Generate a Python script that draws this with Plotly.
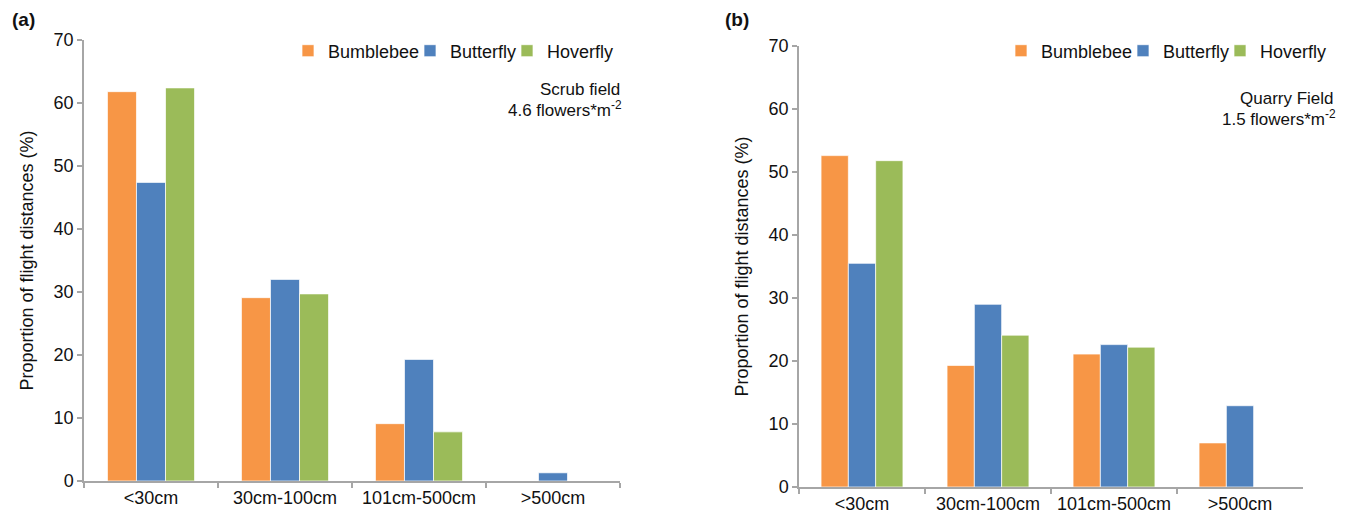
import plotly.graph_objects as go

categories = ["<30cm", "30cm-100cm", "101cm-500cm", ">500cm"]
series_names = ["Bumblebee", "Butterfly", "Hoverfly"]
colors = ["#F79646", "#4F81BD", "#9BBB59"]

scrub_bumblebee = [61.8, 29.1, 9.1, 0.0]
scrub_butterfly = [47.4, 32.0, 19.3, 1.3]
scrub_hoverfly = [62.4, 29.7, 7.8, 0.0]

quarry_bumblebee = [52.6, 19.3, 21.1, 7.0]
quarry_butterfly = [35.5, 29.0, 22.6, 12.9]
quarry_hoverfly = [51.8, 24.1, 22.2, 0.0]

y_ticks = [0, 10, 20, 30, 40, 50, 60, 70]

# page is drawn with an 8px body margin
OFF = 8
W, H = 1362 - OFF, 517 - OFF
FONT = "Liberation Sans, Arial, sans-serif"
TXT = "#111111"


def px_x(p):
    return (p - OFF) / W


def px_y(p):
    return 1 - (p - OFF) / H


fig = go.Figure()

scrub = [scrub_bumblebee, scrub_butterfly, scrub_hoverfly]
quarry = [quarry_bumblebee, quarry_butterfly, quarry_hoverfly]

# legend text start positions (page px)
left_leg_x = [328, 450, 547]
right_leg_x = [1041, 1163, 1260]
LEG_Y = 51

legends = {}
k = 1
for panel, data, xs, xa, ya in [("a", scrub, left_leg_x, "x", "y"), ("b", quarry, right_leg_x, "x2", "y2")]:
    for name, vals, c, lx in zip(series_names, data, colors, xs):
        lname = "legend" if k == 1 else f"legend{k}"
        fig.add_trace(go.Bar(x=categories, y=vals, name=name, marker_color=c,
                             marker_line=dict(color="rgba(255,255,255,0.7)", width=1),
                             xaxis=xa, yaxis=ya, legend=lname, showlegend=True))
        legends[lname] = dict(x=px_x(lx - 40), xanchor="left", y=px_y(LEG_Y), yanchor="middle",
                              orientation="h", font=dict(family=FONT, size=18, color=TXT),
                              bgcolor="rgba(0,0,0,0)", itemwidth=30, borderwidth=0)
        k += 1

axis_common = dict(showline=True, linecolor="#A6A6A6", linewidth=1.5,
                   ticks="outside", tickcolor="#A6A6A6", ticklen=5, tickwidth=1.5,
                   showgrid=False, zeroline=False, automargin=False,
                   tickfont=dict(family=FONT, size=18, color=TXT))

ytitle = dict(text="Proportion of flight distances (%)", font=dict(family=FONT, size=18, color=TXT))

fig.update_layout(
    width=W, height=H,
    margin=dict(l=0, r=0, t=0, b=0, autoexpand=False),
    paper_bgcolor="white", plot_bgcolor="white",
    showlegend=True,
    barmode="group", bargap=0.35, bargroupgap=0,
    font=dict(family=FONT, size=18, color=TXT),
    xaxis=dict(domain=[px_x(84), px_x(620)], anchor="y", tickson="boundaries", **axis_common),
    yaxis=dict(domain=[px_y(481), px_y(40)], anchor="x", range=[0, 70], tickvals=y_ticks,
               title=ytitle, **axis_common),
    xaxis2=dict(domain=[px_x(799), px_x(1303)], anchor="y2", tickson="boundaries", **axis_common),
    yaxis2=dict(domain=[px_y(487), px_y(46)], anchor="x2", range=[0, 70], tickvals=y_ticks,
                title=ytitle, **axis_common),
    **legends,
)

annotations = [
    dict(text="<b>(a)</b>", x=px_x(11), y=1.0, xanchor="left", yanchor="top",
         font=dict(size=19), borderpad=0),
    dict(text="<b>(b)</b>", x=px_x(724), y=1.0, xanchor="left", yanchor="top",
         font=dict(size=19), borderpad=0),
    dict(text="Scrub field", x=px_x(622), y=px_y(89), xanchor="right", yanchor="middle",
         font=dict(size=17)),
    dict(text="4.6 flowers*m<sup>-2</sup>", x=px_x(624), y=px_y(109), xanchor="right", yanchor="middle",
         font=dict(size=17)),
    dict(text="Quarry Field", x=px_x(1336), y=px_y(98), xanchor="right", yanchor="middle",
         font=dict(size=17)),
    dict(text="1.5 flowers*m<sup>-2</sup>", x=px_x(1338), y=px_y(118), xanchor="right", yanchor="middle",
         font=dict(size=17)),
]
for a in annotations:
    a.update(xref="paper", yref="paper", showarrow=False)
    a["font"] = dict(family=FONT, color=TXT, **a["font"])
fig.update_layout(annotations=annotations)

fig.write_html("out.html")
